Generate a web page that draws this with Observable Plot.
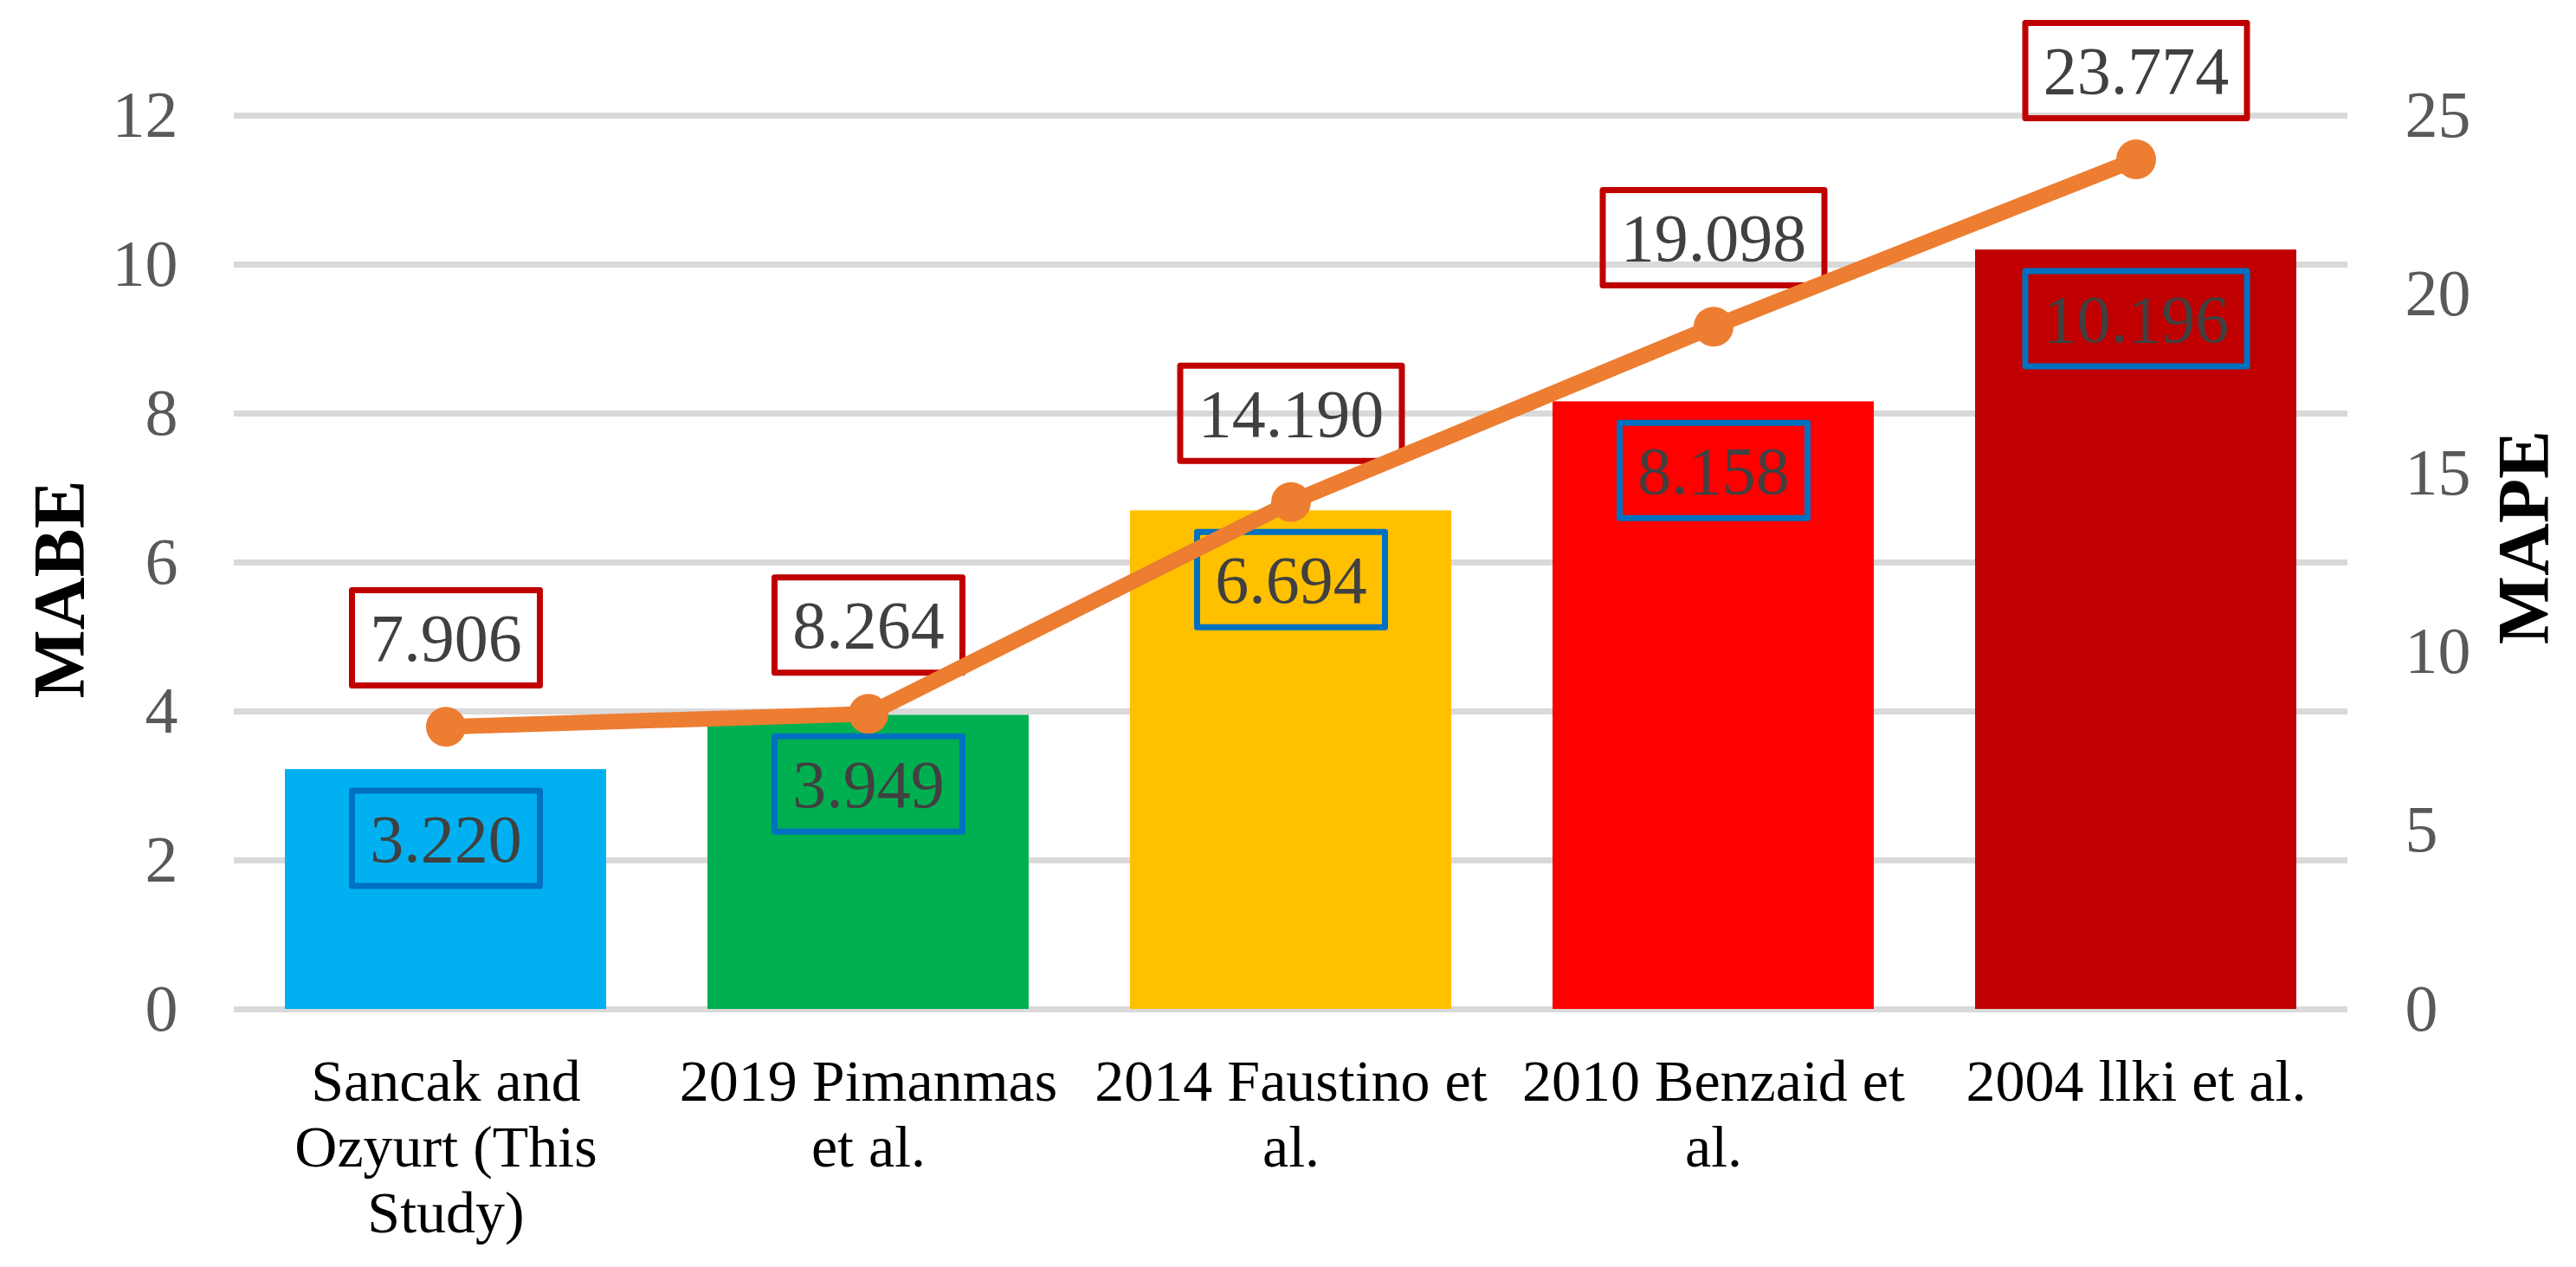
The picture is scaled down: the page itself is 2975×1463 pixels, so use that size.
<!DOCTYPE html>
<html><head><meta charset="utf-8">
<script src="https://cdn.jsdelivr.net/npm/d3@7"></script>
<script src="https://cdn.jsdelivr.net/npm/@observablehq/plot@0.6"></script>
<style>html,body{margin:0;padding:0;background:#fff;} #chart svg{display:block}</style>
</head><body><div id="chart"></div>
<script>
const categories = ["Sancak and Ozyurt (This Study)", "2019 Pimanmas et al.", "2014 Faustino et al.", "2010 Benzaid et al.", "2004 llki et al."];
const tickLabels = ["Sancak and\nOzyurt (This\nStudy)", "2019 Pimanmas\net al.", "2014 Faustino et\nal.", "2010 Benzaid et\nal.", "2004 llki et al."];
const mabe = [3.220, 3.949, 6.694, 8.158, 10.196];
const mape = [7.906, 8.264, 14.190, 19.098, 23.774];
const barColors = ["#00B0F0", "#00B050", "#FFC000", "#FF0000", "#C00000"];
const leftTicks = [0, 2, 4, 6, 8, 10, 12];
const rightTicks = [0, 5, 10, 15, 20, 25];
const leftTitle = "MABE";
const rightTitle = "MAPE";
const leftMax = 12, rightMax = 25;

const rows = categories.map((c, i) => ({cat: c, mabe: mabe[i], mape: mape[i], color: barColors[i]}));
const toLeft = v => v * leftMax / rightMax;
const fmt = d3.format(".3f");
const FONT = "'Liberation Serif', 'Times New Roman', serif";

const chart = Plot.plot({
  width: 2975,
  height: 1463,
  marginLeft: 270,
  marginRight: 264,
  marginTop: 133,
  marginBottom: 298,
  style: {fontFamily: FONT, background: "#fff"},
  x: {domain: categories, paddingInner: 0.24, paddingOuter: 0.12, axis: null},
  y: {domain: [0, leftMax], axis: null},
  color: {type: "identity"},
  marks: [
    Plot.gridY(leftTicks, {stroke: "#D9D9D9", strokeOpacity: 1, strokeWidth: 7}),
    Plot.axisY(leftTicks, {anchor: "left", tickSize: 0, tickPadding: 65, fontSize: 76, color: "#595959", label: null,
      tickFormat: d => String(d)}),
    Plot.axisY(rightTicks.map(toLeft), {anchor: "right", tickSize: 0, tickPadding: 66, fontSize: 76, color: "#595959", label: null,
      tickFormat: d => String(Math.round(d * rightMax / leftMax))}),
    Plot.axisX({anchor: "bottom", tickSize: 0, tickPadding: 52, fontSize: 68, lineHeight: 76 / 68, color: "#000", label: null,
      tickFormat: d => tickLabels[categories.indexOf(d)]}),
    Plot.text([leftTitle], {frameAnchor: "left", textAnchor: "middle", text: d => d, rotate: -90, dx: -200, dy: 31, fontSize: 84, fontWeight: "bold", fill: "#000"}),
    Plot.text([rightTitle], {frameAnchor: "right", textAnchor: "middle", text: d => d, rotate: -90, dx: 205, dy: -29, fontSize: 84, fontWeight: "bold", fill: "#000"}),
    Plot.barY(rows, {x: "cat", y: "mabe", fill: "color"}),
    Plot.text(rows, {x: "cat", y: "mabe", text: d => fmt(d.mabe), dy: 81, fontSize: 78, fill: "#404040", ariaDescription: "mabe-labels"}),
    Plot.text(rows, {x: "cat", y: d => toLeft(d.mape), text: d => fmt(d.mape), dy: -101, fontSize: 78, fill: "#404040", ariaDescription: "mape-labels"}),
    Plot.line(rows, {x: "cat", y: d => toLeft(d.mape), stroke: "#ED7D31", strokeWidth: 18}),
    Plot.dot(rows, {x: "cat", y: d => toLeft(d.mape), r: 23, fill: "#ED7D31", stroke: "none"})
  ]
});

document.getElementById("chart").append(chart);

// draw bordered boxes around data labels, sized from the rendered text
const SW = 7, PADX = 24.25, BOXH = 117;
for (const [desc, col] of [["mabe-labels", "#0070C0"], ["mape-labels", "#C00000"]]) {
  chart.querySelectorAll(`g[aria-description="${desc}"] text`).forEach(t => {
    const b = t.getBBox();
    const cx = b.x + b.width / 2, cy = b.y + b.height / 2;
    const W = b.width + 2 * PADX - SW, H = BOXH - SW;
    const r = document.createElementNS("http://www.w3.org/2000/svg", "rect");
    r.setAttribute("x", cx - W / 2);
    r.setAttribute("y", cy - H / 2);
    r.setAttribute("width", W);
    r.setAttribute("height", H);
    r.setAttribute("fill", "none");
    r.setAttribute("stroke", col);
    r.setAttribute("stroke-width", SW);
    r.setAttribute("stroke-linejoin", "round");
    const tr = t.getAttribute("transform");
    if (tr) r.setAttribute("transform", tr);
    t.parentNode.insertBefore(r, t);
  });
}
</script>
</body></html>
